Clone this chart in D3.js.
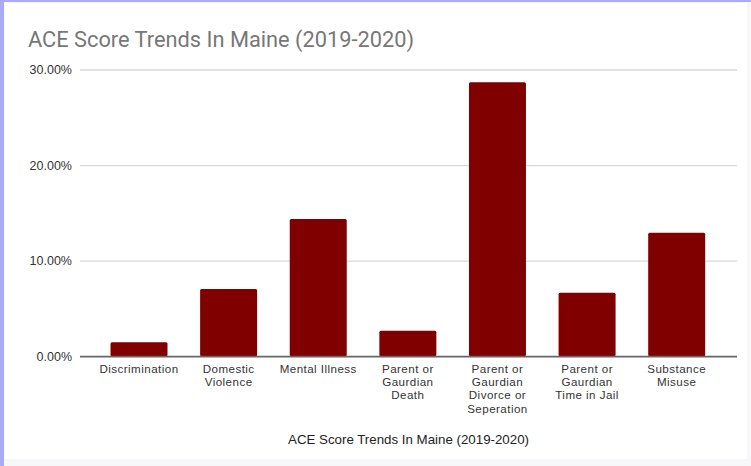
<!DOCTYPE html>
<html>
<head>
<meta charset="utf-8">
<script src="https://cdn.jsdelivr.net/npm/d3@7"></script>
<style>
  html, body { margin: 0; padding: 0; background: #fafafc; }
  svg { display: block; }
</style>
</head>
<body>
<svg id="chart" width="751" height="466"></svg>
<script>
// ACE categories (labels split into lines as shown under each bar)
const categories = [
  "Discrimination",
  "Domestic Violence",
  "Mental Illness",
  "Parent or Gaurdian Death",
  "Parent or Gaurdian Divorce or Seperation",
  "Parent or Gaurdian Time in Jail",
  "Substance Misuse"
];
const categoryLines = [
  ["Discrimination"],
  ["Domestic", "Violence"],
  ["Mental Illness"],
  ["Parent or", "Gaurdian", "Death"],
  ["Parent or", "Gaurdian", "Divorce or", "Seperation"],
  ["Parent or", "Gaurdian", "Time in Jail"],
  ["Substance", "Misuse"]
];
// Share of respondents (fraction)
const values = [0.0146, 0.0704, 0.1436, 0.0268, 0.2866, 0.0665, 0.1293];
const yTicks = [0, 0.10, 0.20, 0.30];

const title = "ACE Score Trends In Maine (2019-2020)";
const xAxisTitle = "ACE Score Trends In Maine (2019-2020)";

const svg = d3.select("#chart");
const W = 751, H = 466;

// page frame
svg.append("rect").attr("x", 0).attr("y", 0).attr("width", W).attr("height", H).attr("fill", "#a9acf4");
svg.append("rect").attr("x", 4).attr("y", 2).attr("width", W - 4).attr("height", H - 2).attr("fill", "#f7f7f9");
svg.append("rect").attr("x", 5).attr("y", 3).attr("width", W - 9).attr("height", H - 10).attr("fill", "#ffffff");

const plot = { left: 80, right: 737, top: 69.5, bottom: 356.3 };

const x = d3.scaleBand()
  .domain(categories)
  .range([94.2, 721.5])
  .paddingInner(0.364)
  .paddingOuter(0.182);

const y = d3.scaleLinear()
  .domain([0, 0.30])
  .range([plot.bottom, plot.top]);

// title
svg.append("text")
  .attr("x", 28).attr("y", 47)
  .attr("font-family", "Roboto, 'Liberation Sans', sans-serif")
  .attr("font-size", 21.8)
  .attr("fill", "#777")
  .text(title);

// gridlines + y labels
const yAxis = d3.axisLeft(y)
  .tickValues(yTicks)
  .tickSize(-(plot.right - plot.left))
  .tickPadding(8)
  .tickFormat(d3.format(".2%"));

const gy = svg.append("g")
  .attr("transform", `translate(${plot.left},0)`)
  .call(yAxis);
gy.select(".domain").remove();
gy.selectAll(".tick line")
  .attr("stroke", d => d === 0 ? "#666" : "#d9d9d9")
  .attr("stroke-width", d => d === 0 ? 1.2 : 1.3);
gy.selectAll(".tick text")
  .attr("font-family", "'Liberation Sans', Arial, sans-serif")
  .attr("font-size", 12.5)
  .attr("fill", "#333")
  .attr("dy", "0.32em");

// bars
svg.append("g")
  .selectAll("rect")
  .data(values)
  .join("rect")
  .attr("x", (d, i) => x(categories[i]))
  .attr("width", x.bandwidth())
  .attr("y", d => y(d))
  .attr("height", d => y(0) - y(d))
  .attr("rx", 1.5)
  .attr("fill", "#800000");

// baseline on top of bars
svg.append("line")
  .attr("x1", plot.left).attr("x2", plot.right)
  .attr("y1", y(0)).attr("y2", y(0))
  .attr("stroke", "#666").attr("stroke-width", 1.2);

// category labels, one text per line
const gx = svg.append("g");
categories.forEach((c, i) => {
  categoryLines[i].forEach((line, j) => {
    gx.append("text")
      .attr("x", x(c) + x.bandwidth() / 2)
      .attr("y", 372.5 + j * 13.4)
      .attr("text-anchor", "middle")
      .attr("font-family", "'Liberation Sans', Arial, sans-serif")
      .attr("font-size", 11.6)
      .attr("letter-spacing", 0.45)
      .attr("fill", "#333")
      .text(line);
  });
});

// x-axis title
svg.append("text")
  .attr("x", (plot.left + plot.right) / 2)
  .attr("y", 444)
  .attr("text-anchor", "middle")
  .attr("font-family", "'Liberation Sans', Arial, sans-serif")
  .attr("font-size", 13.3)
  .attr("fill", "#222")
  .text(xAxisTitle);
</script>
</body>
</html>
